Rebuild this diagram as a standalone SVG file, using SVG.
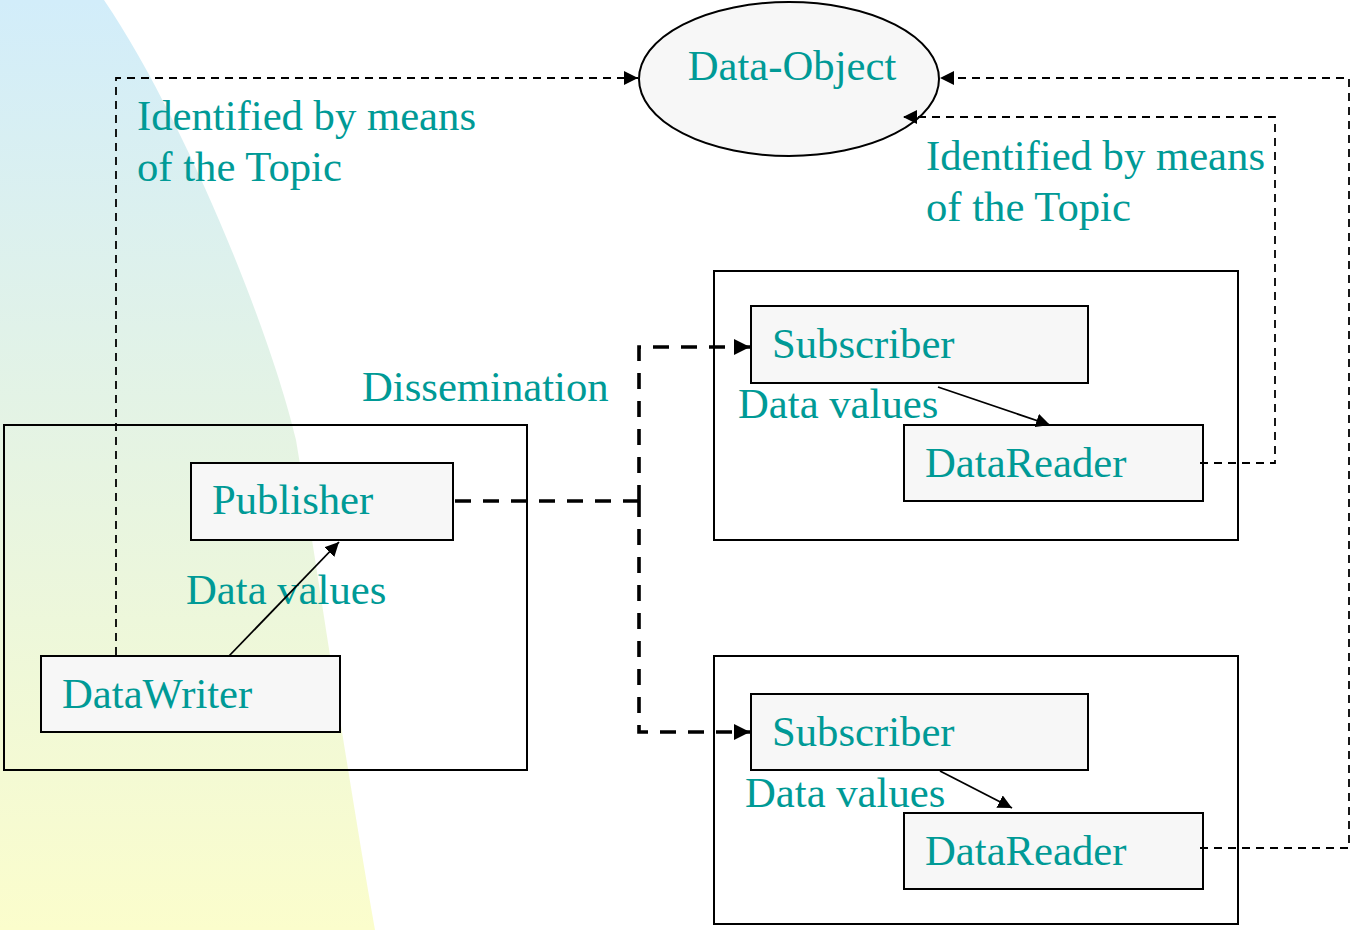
<svg xmlns="http://www.w3.org/2000/svg" width="1353" height="930" viewBox="0 0 1353 930">
  <style>
    .lbl { font-family: "Liberation Serif", "Times New Roman", serif; font-size: 42.7px; fill: #009a96; }
    .box { fill: #f7f7f7; stroke: #000; stroke-width: 2; }
    .frame { fill: none; stroke: #000; stroke-width: 2; }
    .thin { fill: none; stroke: #000; stroke-width: 1.8; stroke-dasharray: 8 6; }
    .thick { fill: none; stroke: #000; stroke-width: 3.6; stroke-dasharray: 16 12; }
    .solid { fill: none; stroke: #000; stroke-width: 1.8; }
  </style>
  <defs>
    <linearGradient id="bg" x1="0" y1="0" x2="0" y2="1">
      <stop offset="0" stop-color="#d2edfa"/>
      <stop offset="0.5" stop-color="#e6f4e2"/>
      <stop offset="1" stop-color="#fbfdcc"/>
    </linearGradient>
    <marker id="arr" viewBox="0 0 10 10" refX="10" refY="5" markerWidth="14" markerHeight="14" markerUnits="userSpaceOnUse" orient="auto">
      <path d="M0,0 L10,5 L0,10 Z" fill="#000"/>
    </marker>
    <marker id="arrBig" viewBox="0 0 10 10" refX="10" refY="5" markerWidth="16" markerHeight="16" markerUnits="userSpaceOnUse" orient="auto">
      <path d="M0,0 L10,5 L0,10 Z" fill="#000"/>
    </marker>
  </defs>

  <!-- backdrop swoosh -->
  <path d="M0,0 L104,0 C185,120 270,330 296,440 C316,560 345,760 375,930 L0,930 Z" fill="url(#bg)"/>

  <g id="data-object">
    <ellipse cx="789" cy="79" rx="150" ry="77" class="box"/>
    <text class="lbl" x="792" y="80" text-anchor="middle">Data-Object</text>
  </g>

  <g id="topic-label-left">
    <text class="lbl" x="137" y="130">Identified by means</text>
    <text class="lbl" x="137" y="181">of the Topic</text>
  </g>
  <g id="topic-label-right">
    <text class="lbl" x="926" y="170">Identified by means</text>
    <text class="lbl" x="926" y="221">of the Topic</text>
  </g>
  <g id="dissemination-label">
    <text class="lbl" x="362" y="401">Dissemination</text>
  </g>

  <g id="publishing-side">
    <rect class="frame" x="4" y="425" width="523" height="345"/>
  </g>
  <g id="publisher">
    <rect class="box" x="191" y="463" width="262" height="77"/>
    <text class="lbl" x="212" y="514">Publisher</text>
  </g>
  <g id="datawriter">
    <rect class="box" x="41" y="656" width="299" height="76"/>
    <text class="lbl" x="62" y="708">DataWriter</text>
  </g>
  <g id="writer-values-label">
    <text class="lbl" x="186" y="604">Data values</text>
  </g>

  <g id="subscribing-side-1">
    <rect class="frame" x="714" y="271" width="524" height="269"/>
  </g>
  <g id="subscriber-1">
    <rect class="box" x="751" y="306" width="337" height="77"/>
    <text class="lbl" x="772" y="358">Subscriber</text>
  </g>
  <g id="reader-values-label-1">
    <text class="lbl" x="738" y="418">Data values</text>
  </g>
  <g id="datareader-1">
    <rect class="box" x="904" y="425" width="299" height="76"/>
    <text class="lbl" x="925" y="477">DataReader</text>
  </g>

  <g id="subscribing-side-2">
    <rect class="frame" x="714" y="656" width="524" height="268"/>
  </g>
  <g id="subscriber-2">
    <rect class="box" x="751" y="694" width="337" height="76"/>
    <text class="lbl" x="772" y="746">Subscriber</text>
  </g>
  <g id="reader-values-label-2">
    <text class="lbl" x="745" y="807">Data values</text>
  </g>
  <g id="datareader-2">
    <rect class="box" x="904" y="813" width="299" height="76"/>
    <text class="lbl" x="925" y="865">DataReader</text>
  </g>

  <!-- connectors, drawn last so arrowheads sit on top of the nodes -->
  <g id="connectors">
    <path class="thin" d="M116,655 V78 H638" marker-end="url(#arr)"/>
    <path class="thin" d="M1200,463 H1275 V117 H903" marker-end="url(#arr)"/>
    <path class="thin" d="M1200,848 H1349 V78 H940" marker-end="url(#arr)"/>
    <path class="thick" d="M455,501 H639"/>
    <path class="thick" d="M639,501 V347 H750" marker-end="url(#arrBig)"/>
    <path class="thick" d="M639,501 V732 H750" marker-end="url(#arrBig)"/>
    <path class="solid" d="M229,656 L339,542" marker-end="url(#arr)"/>
    <path class="solid" d="M938,387 L1050,425" marker-end="url(#arr)"/>
    <path class="solid" d="M940,771 L1012,808" marker-end="url(#arr)"/>
  </g>
</svg>
